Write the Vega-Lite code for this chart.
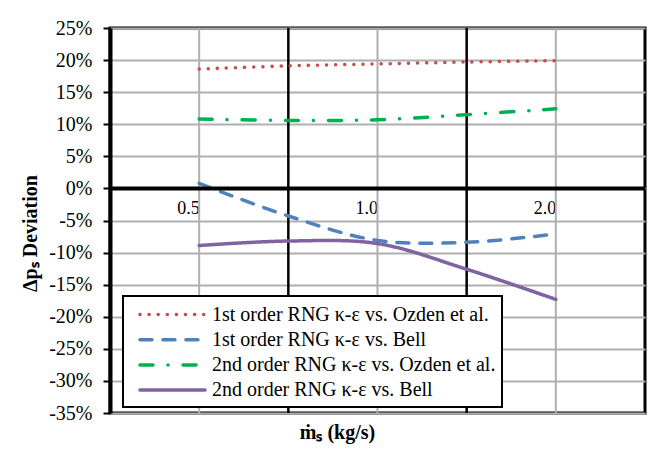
{
  "$schema": "https://vega.github.io/schema/vega-lite/v6.json",
  "width": 535,
  "height": 385,
  "autosize": "none",
  "padding": {"left": 110, "top": 28, "right": 10, "bottom": 38},
  "background": "white",
  "config": {
    "view": {"stroke": "black", "strokeWidth": 3},
    "font": "Liberation Serif",
    "axis": {"labelOverlap": false, "labelFont": "Liberation Serif", "titleFont": "Liberation Serif"}
  },
  "datasets": {
    "vlines": [
      {"ms": "0.5", "kind": "gray"},
      {"ms": "0.75", "kind": "black"},
      {"ms": "1.0", "kind": "gray"},
      {"ms": "1.5", "kind": "black"},
      {"ms": "2.0", "kind": "gray"}
    ],
    "zero": [{"dev": 0}],
    "curves": [
      {"ms": "0.5", "series": "1st order RNG κ-ε vs. Ozden et al.", "dev": 18.6},
      {"ms": "0.75", "series": "1st order RNG κ-ε vs. Ozden et al.", "dev": 19.1},
      {"ms": "1.0", "series": "1st order RNG κ-ε vs. Ozden et al.", "dev": 19.4},
      {"ms": "1.5", "series": "1st order RNG κ-ε vs. Ozden et al.", "dev": 19.7},
      {"ms": "2.0", "series": "1st order RNG κ-ε vs. Ozden et al.", "dev": 19.9},
      {"ms": "0.5", "series": "1st order RNG κ-ε vs. Bell", "dev": 0.8},
      {"ms": "0.75", "series": "1st order RNG κ-ε vs. Bell", "dev": -4.3},
      {"ms": "1.0", "series": "1st order RNG κ-ε vs. Bell", "dev": -8.1},
      {"ms": "1.5", "series": "1st order RNG κ-ε vs. Bell", "dev": -8.4},
      {"ms": "2.0", "series": "1st order RNG κ-ε vs. Bell", "dev": -7.1},
      {"ms": "0.5", "series": "2nd order RNG κ-ε vs. Ozden et al.", "dev": 10.8},
      {"ms": "0.75", "series": "2nd order RNG κ-ε vs. Ozden et al.", "dev": 10.6},
      {"ms": "1.0", "series": "2nd order RNG κ-ε vs. Ozden et al.", "dev": 10.7},
      {"ms": "1.5", "series": "2nd order RNG κ-ε vs. Ozden et al.", "dev": 11.5},
      {"ms": "2.0", "series": "2nd order RNG κ-ε vs. Ozden et al.", "dev": 12.4},
      {"ms": "0.5", "series": "2nd order RNG κ-ε vs. Bell", "dev": -8.9},
      {"ms": "0.75", "series": "2nd order RNG κ-ε vs. Bell", "dev": -8.2},
      {"ms": "1.0", "series": "2nd order RNG κ-ε vs. Bell", "dev": -8.6},
      {"ms": "1.5", "series": "2nd order RNG κ-ε vs. Bell", "dev": -12.6},
      {"ms": "2.0", "series": "2nd order RNG κ-ε vs. Bell", "dev": -17.3}
    ]
  },
  "layer": [
    {
      "data": {"name": "vlines"},
      "transform": [{"filter": "datum.kind == 'gray'"}],
      "mark": {"type": "rule", "color": "#B0B0B0", "strokeWidth": 2},
      "encoding": {
        "x": {
          "field": "ms", "type": "ordinal",
          "scale": {"type": "point", "domain": ["0.5", "0.75", "1.0", "1.5", "2.0"], "padding": 1}
        }
      }
    },
    {
      "data": {"name": "vlines"},
      "transform": [{"filter": "datum.kind == 'black'"}],
      "mark": {"type": "rule", "color": "black", "strokeWidth": 2.5},
      "encoding": {
        "x": {
          "field": "ms", "type": "ordinal",
          "scale": {"type": "point", "domain": ["0.5", "0.75", "1.0", "1.5", "2.0"], "padding": 1}
        }
      }
    },
    {
      "data": {"name": "curves"},
      "mark": {"type": "line", "strokeWidth": 3.5, "strokeCap": "round", "interpolate": "catmull-rom"},
      "encoding": {
        "x": {
          "field": "ms", "type": "ordinal",
          "scale": {"type": "point", "domain": ["0.5", "0.75", "1.0", "1.5", "2.0"], "padding": 1},
          "axis": {
            "title": "ṁₛ (kg/s)",
            "offset": -224.3,
            "domain": false,
            "ticks": false,
            "grid": false,
            "labelAngle": 0,
            "labelOverlap": false,
            "labelExpr": "datum.value == '0.75' || datum.value == '1.5' ? '' : datum.value",
            "labelFont": "Liberation Serif",
            "labelFontSize": 18,
            "labelColor": "black",
            "labelPadding": 20,
            "titleFont": "Liberation Serif",
            "titleFontSize": 20,
            "titleFontWeight": "bold",
            "titleColor": "black",
            "titleX": 227,
            "titleY": 244,
            "titleAlign": "center",
            "titleBaseline": "middle"
          }
        },
        "y": {
          "field": "dev", "type": "quantitative",
          "scale": {"domain": [-35, 25], "nice": false, "zero": false},
          "axis": {
            "values": [-35, -30, -25, -20, -15, -10, -5, 0, 5, 10, 15, 20, 25],
            "labelExpr": "datum.value + '%'",
            "labelOverlap": false,
            "title": "Δpₛ Deviation",
            "titleFont": "Liberation Serif",
            "titleFontSize": 20,
            "titleFontWeight": "bold",
            "titleColor": "black",
            "titleAngle": -90,
            "titleX": -80,
            "titleY": 205,
            "titleAlign": "center",
            "titleBaseline": "middle",
            "labelFont": "Liberation Serif",
            "labelFontSize": 20,
            "labelColor": "black",
            "labelPadding": 11,
            "tickSize": 7,
            "tickColor": "black",
            "tickWidth": 2,
            "domainColor": "black",
            "domainWidth": 4,
            "grid": true,
            "gridColor": "#B0B0B0",
            "gridWidth": 2
          }
        },
        "color": {
          "field": "series", "type": "nominal",
          "scale": {
            "domain": ["1st order RNG κ-ε vs. Ozden et al.", "1st order RNG κ-ε vs. Bell", "2nd order RNG κ-ε vs. Ozden et al.", "2nd order RNG κ-ε vs. Bell"],
            "range": ["#C0504D", "#4F81BD", "#00B050", "#8064A2"]
          },
          "legend": {
            "title": null,
            "orient": "none",
            "legendX": 13,
            "legendY": 268,
            "fillColor": "white",
            "strokeColor": "black",
            "padding": 6,
            "labelFont": "Liberation Serif",
            "labelFontSize": 20,
            "labelColor": "black",
            "labelLimit": 400,
            "symbolType": "M-3.1,0H3.1",
            "symbolSize": 441,
            "symbolStrokeWidth": 3.5,
            "symbolOffset": 31,
            "labelOffset": 27,
            "rowPadding": 2.2,
            "encode": {
              "symbols": {"update": {"strokeCap": {"value": "round"}}},
              "legend": {"update": {"strokeWidth": {"value": 2}}}
            }
          }
        },
        "strokeDash": {
          "field": "series", "type": "nominal",
          "scale": {
            "domain": ["1st order RNG κ-ε vs. Ozden et al.", "1st order RNG κ-ε vs. Bell", "2nd order RNG κ-ε vs. Ozden et al.", "2nd order RNG κ-ε vs. Bell"],
            "range": [[0.1, 9], [12, 11], [13, 15, 0.1, 15], [1, 0]]
          }
        }
      }
    },
    {
      "data": {"name": "zero"},
      "mark": {"type": "rule", "color": "black", "strokeWidth": 4},
      "encoding": {
        "y": {
          "field": "dev", "type": "quantitative",
          "scale": {"domain": [-35, 25], "nice": false, "zero": false},
          "axis": {
            "values": [-35, -30, -25, -20, -15, -10, -5, 0, 5, 10, 15, 20, 25],
            "labelExpr": "datum.value + '%'",
            "labelOverlap": false,
            "title": "Δpₛ Deviation",
            "titleFont": "Liberation Serif",
            "titleFontSize": 20,
            "titleFontWeight": "bold",
            "titleColor": "black",
            "titleAngle": -90,
            "titleX": -80,
            "titleY": 205,
            "titleAlign": "center",
            "titleBaseline": "middle",
            "labelFont": "Liberation Serif",
            "labelFontSize": 20,
            "labelColor": "black",
            "labelPadding": 11,
            "tickSize": 7,
            "tickColor": "black",
            "tickWidth": 2,
            "domainColor": "black",
            "domainWidth": 4,
            "grid": true,
            "gridColor": "#B0B0B0",
            "gridWidth": 2
          }
        }
      }
    }
  ]
}
